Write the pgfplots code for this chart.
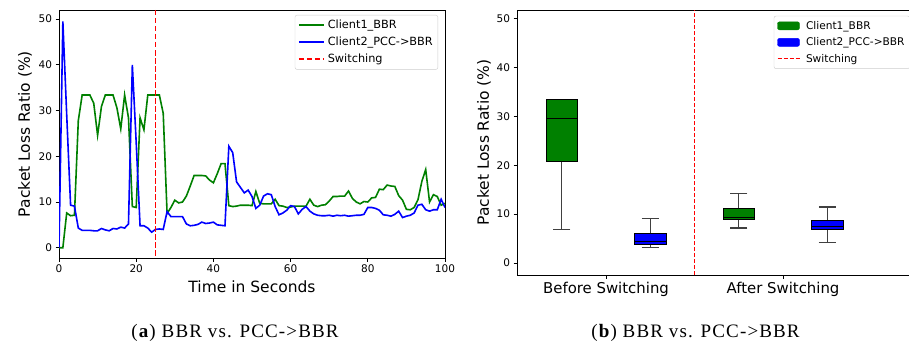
\documentclass[border=0pt]{standalone}
\usepackage{fontspec}
\setmainfont{DejaVu Sans}
\newfontfamily\capfont[LetterSpace=6]{Liberation Serif}
\usepackage{pgfplots}
\usepackage{pgfplotstable}
\pgfplotsset{compat=1.18}
\usepgfplotslibrary{statistics}

\definecolor{mgreen}{HTML}{008000}
\definecolor{mblue}{HTML}{0000FF}
\definecolor{mred}{HTML}{FF0000}

\pgfplotstableread{
t green blue
0 0 0
1 0 49.5
2 7.6 29
3 7.0 9.3
4 7.1 9.1
5 27.8 4.3
6 33.4 3.8
7 33.4 3.8
8 33.4 3.8
9 31.6 3.7
10 24.6 3.7
11 30.9 4.2
12 33.4 3.9
13 33.4 3.7
14 33.4 4.2
15 30.6 4.1
16 26.0 4.5
17 33.4 4.3
18 28.4 5.2
19 9.0 40.0
20 8.8 23
21 28.4 4.8
22 25.8 4.8
23 33.4 4.3
24 33.4 3.4
25 33.4 4.0
26 33.4 4.1
27 29.4 4.0
28 7.5 7.9
29 8.8 6.8
30 10.4 6.8
31 9.8 6.8
32 10.0 6.8
33 11.3 5.2
34 13.5 4.8
35 15.8 4.9
36 15.8 5.1
37 15.8 5.6
38 15.7 5.3
39 14.8 5.4
40 14.2 5.6
41 16.2 5.0
42 18.4 4.9
43 18.4 4.8
44 9.2 22.2
45 9.0 20.8
46 9.1 14.4
47 9.3 13.2
48 9.3 12.0
49 9.3 12.6
50 9.2 11.2
51 12.3 8.6
52 9.7 9.3
53 9.6 11.3
54 9.6 11.8
55 9.6 11.6
56 10.6 9.0
57 9.2 7.2
58 9.1 7.6
59 8.8 8.2
60 8.9 9.2
61 9.1 9.0
62 9.1 7.4
63 9.1 8.4
64 9.1 9.0
65 10.6 8.0
66 9.3 7.4
67 9.0 7.1
68 9.3 7.0
69 9.4 7.0
70 10.2 7.1
71 11.2 6.9
72 11.2 7.1
73 11.3 7.0
74 11.3 7.1
75 12.4 6.9
76 10.8 7.0
77 10.0 7.1
78 9.6 7.1
79 10.1 7.3
80 10.0 8.8
81 10.9 8.8
82 11.0 8.6
83 12.8 8.2
84 12.7 7.2
85 13.7 7.1
86 13.5 6.9
87 13.4 7.3
88 11.4 8.0
89 10.4 6.6
90 8.4 6.9
91 8.3 7.1
92 8.8 7.6
93 10.5 9.3
94 14.5 9.5
95 17.1 8.3
96 10.0 8.0
97 11.6 8.3
98 11.2 8.3
99 9.3 10.6
100 9.7 8.8
}\lossdata

\pgfplotsset{
  common/.style={
    scale only axis,
    tick align=outside,
    xtick pos=bottom, ytick pos=left,
    major tick length=3.5pt,
    tick style={black, line width=0.8pt},
    axis line style={black, line width=0.8pt},
    /pgf/number format/assume math mode=true,
    ticklabel style={font=\fontsize{10.5}{12}\selectfont},
    label style={font=\fontsize{15.5}{18}\selectfont},
    ylabel style={at={(axis description cs:0,0.5)}, anchor=center},
    legend cell align=left,
  }
}

\begin{document}
\begin{tikzpicture}
\useasboundingbox (0pt,0pt) rectangle (909pt,343pt);

% ---------- (a) time series ----------
\begin{axis}[common,
  at={(59pt,85pt)}, anchor=south west, width=386pt, height=248pt,
  xmin=0, xmax=100, ymin=-2.25, ymax=52,
  xtick={0,20,...,100}, ytick={0,10,...,50},
  xlabel={Time in Seconds}, ylabel={Packet Loss Ratio (\%)},
  xlabel style={at={(axis description cs:0.5,0)}, anchor=center, yshift=-29pt},
  ylabel style={yshift=34pt},
  legend style={at={(0.982,0.98)}, anchor=north east,
    nodes={font=\fontsize{11.3}{13}\selectfont},
    draw=black!20, rounded corners=2pt, row sep=3pt, column sep=1pt,
    inner xsep=3pt, inner ysep=3pt},
  legend image code/.code={\draw[#1] (0pt,0pt) -- (25pt,0pt);},
]
\addplot[mgreen, line width=1.6pt] table[x=t, y=green] {\lossdata};
\addplot[mblue, line width=1.6pt] table[x=t, y=blue] {\lossdata};
\addlegendimage{mred, line width=1.8pt, dash pattern=on 5.5pt off 2.5pt}
\legend{Client1\_BBR, Client2\_PCC->BBR, Switching}
\end{axis}

% ---------- (b) box plots ----------
\begin{axis}[common,
  at={(517pt,68pt)}, anchor=south west, width=400pt, height=265pt,
  xmin=-0.503, xmax=1.757, ymin=-2.46, ymax=51.8,
  xtick={0,1}, xticklabels={Before Switching, After Switching},
  ytick={0,10,...,50},
  xticklabel style={font=\fontsize{14.9}{17}\selectfont},
  ylabel={Packet Loss Ratio (\%)},
  ylabel style={yshift=33pt},
  legend style={at={(0.642,0.978)}, anchor=north west,
    nodes={font=\fontsize{10.6}{12}\selectfont},
    draw=black!20, rounded corners=2pt, row sep=3pt, column sep=4pt,
    inner xsep=3pt, inner ysep=3pt},
  boxplot/draw direction=y,
  boxplot/every whisker/.style={black!75, line width=1.2pt},
  boxplot/every median/.style={black, line width=1pt},
  boxplot/every box/.style={draw=black, line width=1pt},
]
\addplot[boxplot prepared={draw position=-0.25, lower whisker=6.8, lower quartile=20.7,
  median=29.5, upper quartile=33.4, upper whisker=33.4, box extend=0.178, whisker extend=0.096},
  fill=mgreen, draw=black, forget plot] coordinates {};
\addplot[boxplot prepared={draw position=0.25, lower whisker=3.2, lower quartile=3.8,
  median=4.3, upper quartile=6.0, upper whisker=9.07, box extend=0.178, whisker extend=0.096},
  fill=mblue, draw=black, forget plot] coordinates {};
\addplot[boxplot prepared={draw position=0.75, lower whisker=7.16, lower quartile=8.9,
  median=9.4, upper quartile=11.1, upper whisker=14.2, box extend=0.178, whisker extend=0.096},
  fill=mgreen, draw=black, forget plot] coordinates {};
\addplot[boxplot prepared={draw position=1.25, lower whisker=4.16, lower quartile=6.9,
  median=7.4, upper quartile=8.8, upper whisker=11.46, box extend=0.178, whisker extend=0.096},
  fill=mblue, draw=black, forget plot] coordinates {};
\addplot[mred, line width=1pt, dash pattern=on 4pt off 2pt, forget plot] coordinates {(0.5,-2.46) (0.5,51.8)};
\addlegendimage{legend image code/.code={\fill[mgreen] (0pt,-4pt) rectangle (22pt,4pt);}}
\addlegendentry{Client1\_BBR}
\addlegendimage{legend image code/.code={\fill[mblue] (0pt,-4pt) rectangle (22pt,4pt);}}
\addlegendentry{Client2\_PCC->BBR}
\addlegendimage{legend image code/.code={\draw[mred, line width=1pt, dash pattern=on 4pt off 2pt] (0pt,0pt) -- (22pt,0pt);}}
\addlegendentry{Switching}
\end{axis}

% ---------- switching line of (a), drawn last in an overlay axis ----------
\begin{axis}[
  at={(59pt,85pt)}, anchor=south west, width=386pt, height=248pt,
  scale only axis, hide axis,
  xmin=0, xmax=100, ymin=-2.25, ymax=52,
]
\addplot[mred, line width=1.8pt, dash pattern=on 5.5pt off 2.5pt] coordinates {(25,52) (25,-2.25)};
\end{axis}

\node[font=\capfont\fontsize{19}{21}\selectfont, anchor=base] at (235pt,6pt) {(\textbf{a}) BBR vs. PCC->BBR};
\node[font=\capfont\fontsize{19}{21}\selectfont, anchor=base] at (695.5pt,6pt) {(\textbf{b}) BBR vs. PCC->BBR};
\end{tikzpicture}
\end{document}
